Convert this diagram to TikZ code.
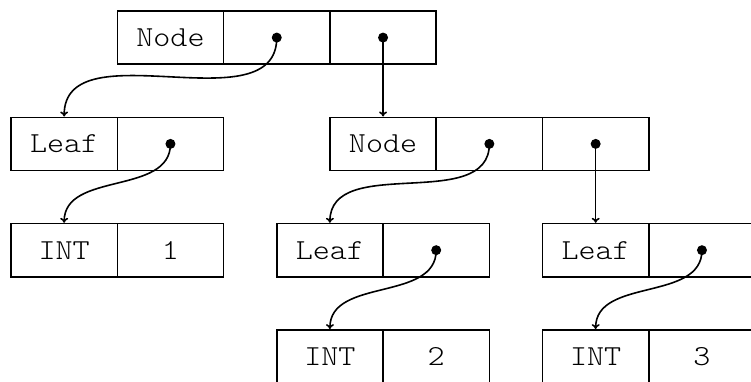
\documentclass[tikz,border=0pt]{standalone}
\usepackage{fontspec}
\newfontfamily\cellfont[FakeStretch=1.12]{Latin Modern Mono Light}
\usetikzlibrary{arrows.meta}
\begin{document}
\begin{tikzpicture}[x=106.3pt,y=-106.3pt,
  cell/.style={draw,line width=1.6pt,minimum width=106.3pt,minimum height=53.15pt,inner sep=0pt,
    font=\cellfont\fontsize{29}{29}\selectfont},
  ptr/.style={line width=1.6pt,-{To[length=5pt,width=8pt]}},
  dotnode/.style={circle,fill=black,inner sep=0pt,minimum size=10pt}]
\useasboundingbox (0pt,0pt) rectangle (751pt,-381pt);
\clip (0pt,0pt) rectangle (751pt,-381pt);
\begin{scope}[shift={(11pt,-11pt)}]
% top Node
\node[cell] (t1) at (1.5,0.25) {Node};
\node[cell] (t2) at (2.5,0.25) {};
\node[cell] (t3) at (3.5,0.25) {};
% left Leaf
\node[cell] (la1) at (0.5,1.25) {Leaf};
\node[cell] (la2) at (1.5,1.25) {};
% INT 1
\node[cell] (ia1) at (0.5,2.25) {INT};
\node[cell] (ia2) at (1.5,2.25) {1};
% middle Node
\node[cell] (m1) at (3.5,1.25) {Node};
\node[cell] (m2) at (4.5,1.25) {};
\node[cell] (m3) at (5.5,1.25) {};
% middle Leaf
\node[cell] (lb1) at (3,2.25) {Leaf};
\node[cell] (lb2) at (4,2.25) {};
% INT 2
\node[cell] (ib1) at (3,3.25) {INT};
\node[cell] (ib2) at (4,3.25) {2};
% right Leaf
\node[cell] (lc1) at (5.5,2.25) {Leaf};
\node[cell] (lc2) at (6.5,2.25) {};
% INT 3
\node[cell] (ic1) at (5.5,3.25) {INT};
\node[cell] (ic2) at (6.5,3.25) {3};
% dots
\node[dotnode] (d1) at (t2.center) {};
\node[dotnode] (d2) at (t3.center) {};
\node[dotnode] (d3) at (la2.center) {};
\node[dotnode] (d4) at (m2.center) {};
\node[dotnode] (d5) at (m3.center) {};
\node[dotnode] (d6) at (lb2.center) {};
\node[dotnode] (d7) at (lc2.center) {};
% pointers
\draw[ptr] (d1.center) to[out=-90,in=90] (la1.north);
\draw[ptr] (d2.center) -- (m1.north);
\draw[ptr] (d3.center) to[out=-90,in=90] (ia1.north);
\draw[ptr] (d4.center) to[out=-90,in=90] (lb1.north);
\draw[ptr] (d5.center) -- (lc1.north);
\draw[ptr] (d6.center) to[out=-90,in=90] (ib1.north);
\draw[ptr] (d7.center) to[out=-90,in=90] (ic1.north);
\end{scope}
\end{tikzpicture}
\end{document}
